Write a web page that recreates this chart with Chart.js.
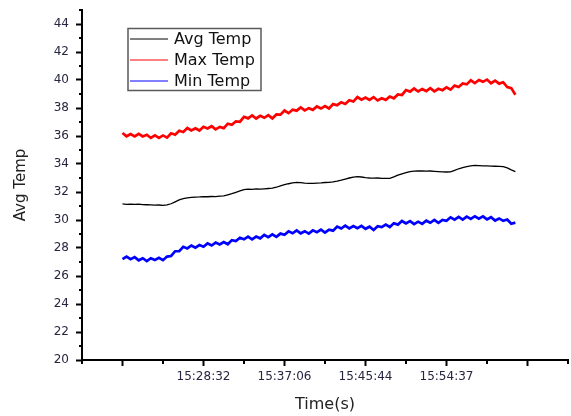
<!DOCTYPE html>
<html>
<head>
<meta charset="utf-8">
<script src="https://cdn.jsdelivr.net/npm/chart.js@4/dist/chart.umd.min.js"></script>
<style>
  html, body { margin: 0; padding: 0; background: #fff; }
  #wrap { width: 571px; height: 416px; }
</style>
</head>
<body>
<div id="wrap"><canvas id="tempChart" width="571" height="416"></canvas></div>
<script>
// logger readings, one row every 5 samples
const SAMPLE_STEP = 5;

const avgTemp = [
  31.15, 31.12, 31.14, 31.11, 31.13, 31.10, 31.09, 31.08, 31.06, 31.07,
  31.05, 31.08, 31.16, 31.30, 31.44, 31.52, 31.58, 31.61, 31.64, 31.65,
  31.67, 31.66, 31.68, 31.67, 31.70, 31.72, 31.80, 31.88, 31.98, 32.08,
  32.17, 32.20, 32.19, 32.22, 32.21, 32.23, 32.25, 32.27, 32.34, 32.44,
  32.52, 32.59, 32.65, 32.69, 32.67, 32.64, 32.62, 32.61, 32.63, 32.65,
  32.68, 32.69, 32.72, 32.77, 32.84, 32.92, 33.00, 33.07, 33.10, 33.07,
  33.03, 33.00, 32.99, 33.00, 32.98, 32.97, 32.98, 33.08, 33.20, 33.30,
  33.38, 33.45, 33.49, 33.51, 33.50, 33.49, 33.50, 33.48, 33.46, 33.44,
  33.43, 33.44, 33.55, 33.66, 33.74, 33.81, 33.87, 33.90, 33.89, 33.87,
  33.86, 33.85, 33.84, 33.83, 33.81, 33.72, 33.58, 33.45
];

const maxTemp = [
  36.22, 35.98, 36.14, 35.97, 36.16, 35.97, 36.09, 35.86, 36.04, 35.86,
  36.04, 35.88, 36.19, 36.09, 36.37, 36.28, 36.57, 36.40, 36.55, 36.39,
  36.66, 36.54, 36.70, 36.47, 36.65, 36.56, 36.88, 36.80, 37.05, 37.02,
  37.37, 37.26, 37.47, 37.25, 37.44, 37.30, 37.49, 37.26, 37.54, 37.53,
  37.82, 37.63, 37.88, 37.81, 38.04, 37.83, 37.99, 37.87, 38.11, 37.96,
  38.14, 37.97, 38.28, 38.20, 38.41, 38.29, 38.55, 38.46, 38.78, 38.59,
  38.75, 38.58, 38.78, 38.54, 38.69, 38.58, 38.82, 38.69, 38.97, 38.93,
  39.28, 39.17, 39.39, 39.18, 39.36, 39.21, 39.41, 39.19, 39.37, 39.27,
  39.47, 39.31, 39.60, 39.50, 39.75, 39.69, 39.98, 39.78, 40.00, 39.87,
  40.03, 39.77, 39.95, 39.74, 39.84, 39.50, 39.42, 38.95
];

const minTemp = [
  27.20, 27.38, 27.20, 27.35, 27.12, 27.27, 27.07, 27.27, 27.15, 27.30,
  27.13, 27.39, 27.43, 27.77, 27.78, 28.09, 27.97, 28.18, 28.02, 28.21,
  28.09, 28.33, 28.18, 28.39, 28.25, 28.43, 28.27, 28.56, 28.49, 28.73,
  28.62, 28.82, 28.62, 28.82, 28.69, 28.93, 28.78, 28.98, 28.80, 29.03,
  28.95, 29.19, 29.05, 29.26, 29.05, 29.20, 29.03, 29.26, 29.13, 29.31,
  29.10, 29.31, 29.24, 29.53, 29.39, 29.59, 29.40, 29.57, 29.41, 29.58,
  29.37, 29.52, 29.29, 29.55, 29.49, 29.67, 29.50, 29.77, 29.67, 29.93,
  29.76, 29.92, 29.71, 29.88, 29.72, 29.95, 29.80, 30.00, 29.80, 30.00,
  29.94, 30.19, 30.03, 30.22, 30.03, 30.24, 30.08, 30.27, 30.10, 30.26,
  30.04, 30.20, 29.96, 30.11, 29.94, 30.03, 29.73, 29.81
];

const seriesNames = ['Avg Temp', 'Max Temp', 'Min Temp'];
const seriesColors = ['#000000', '#ff0000', '#0000ff'];

// x axis: sample number, time stamps printed under some major ticks
const xMajorTicks = [0, 100, 200, 300, 400, 500];
const xMinorTicks = [-50, 50, 150, 250, 350, 450, 550];
const timeLabels = { 100: '15:28:32', 200: '15:37:06', 300: '15:45:44', 400: '15:54:37' };

const yMajorTicks = [20, 22, 24, 26, 28, 30, 32, 34, 36, 38, 40, 42, 44];
const yMinorTicks = [21, 23, 25, 27, 29, 31, 33, 35, 37, 39, 41, 43, 45];

const sampleNo = avgTemp.map((_, i) => i * SAMPLE_STEP);
const toPoints = (vals) => vals.map((v, i) => ({ x: sampleNo[i], y: v }));

const FONT = 'DejaVu Sans';

// short outside ticks between the labelled ones
const minorTickPlugin = {
  id: 'minorTicks',
  afterDraw(chart) {
    const { ctx, chartArea, scales } = chart;
    ctx.save();
    ctx.strokeStyle = '#000';
    ctx.lineWidth = 2;
    ctx.beginPath();
    yMinorTicks.forEach((v) => {
      const py = Math.round(scales.y.getPixelForValue(v));
      ctx.moveTo(chartArea.left - 3, py);
      ctx.lineTo(chartArea.left, py);
    });
    xMinorTicks.forEach((v) => {
      const px = Math.round(scales.x.getPixelForValue(v));
      ctx.moveTo(px, chartArea.bottom);
      ctx.lineTo(px, chartArea.bottom + 4);
    });
    ctx.stroke();
    ctx.restore();
  }
};

// boxed legend sitting inside the plot, upper left
const boxLegendPlugin = {
  id: 'boxLegend',
  afterDraw(chart) {
    const ctx = chart.ctx;
    const left = 128, top = 28.5, w = 133, h = 62, rowH = 20.8;
    ctx.save();
    ctx.strokeStyle = '#5a5a5a';
    ctx.lineWidth = 1.5;
    ctx.strokeRect(left, top, w, h);
    ctx.font = '16px "' + FONT + '"';
    ctx.textBaseline = 'middle';
    ctx.fillStyle = '#111';
    chart.data.datasets.forEach((ds, i) => {
      const cy = Math.round(top + 10.5 + i * rowH);
      ctx.strokeStyle = ds.borderColor;
      ctx.lineWidth = 1;
      ctx.beginPath();
      ctx.moveTo(left + 2, cy);
      ctx.lineTo(left + 40, cy);
      ctx.stroke();
      ctx.fillText(ds.label, left + 46, cy + 1);
    });
    ctx.restore();
  }
};

new Chart(document.getElementById('tempChart'), {
  type: 'line',
  data: {
    datasets: [
      { label: seriesNames[0], data: toPoints(avgTemp), borderColor: seriesColors[0], borderWidth: 1.3 },
      { label: seriesNames[1], data: toPoints(maxTemp), borderColor: seriesColors[1], borderWidth: 2.7 },
      { label: seriesNames[2], data: toPoints(minTemp), borderColor: seriesColors[2], borderWidth: 2.7 }
    ]
  },
  options: {
    responsive: false,
    animation: false,
    devicePixelRatio: 1,
    layout: { padding: { top: 10, right: 3, left: 0, bottom: 0 } },
    elements: { point: { radius: 0 }, line: { tension: 0 } },
    plugins: {
      legend: { display: false },
      tooltip: { enabled: false }
    },
    scales: {
      x: {
        type: 'linear',
        min: -50,
        max: 550,
        afterBuildTicks: (scale) => { scale.ticks = xMajorTicks.map((v) => ({ value: v })); },
        afterFit: (scale) => {
          scale.height = 56;
          scale.paddingLeft = 0;
          scale.paddingRight = 0;
        },
        border: { display: true, color: '#000', width: 2 },
        grid: { drawOnChartArea: false, drawTicks: true, tickLength: 6, tickWidth: 2, tickColor: '#000' },
        ticks: {
          padding: 4,
          maxRotation: 0,
          autoSkip: false,
          color: '#262640',
          font: { family: FONT, size: 12 },
          callback: (v) => timeLabels[v] || ''
        },
        title: {
          display: true,
          text: 'Time(s)',
          color: '#222',
          font: { family: FONT, size: 16 },
          padding: { top: 0, bottom: 2 }
        }
      },
      y: {
        min: 20,
        max: 45,
        afterBuildTicks: (scale) => { scale.ticks = yMajorTicks.map((v) => ({ value: v })); },
        afterFit: (scale) => {
          scale.width = 82;
          scale.paddingTop = 0;
          scale.paddingBottom = 0;
        },
        border: { display: true, color: '#000', width: 2 },
        grid: { drawOnChartArea: false, drawTicks: true, tickLength: 6, tickWidth: 2, tickColor: '#000' },
        ticks: {
          padding: 7,
          color: '#262640',
          font: { family: FONT, size: 12 }
        },
        title: {
          display: true,
          text: 'Avg Temp',
          color: '#222',
          font: { family: FONT, size: 15 },
          padding: { top: 12, bottom: 0 }
        }
      }
    }
  },
  plugins: [minorTickPlugin, boxLegendPlugin]
});
</script>
</body>
</html>
